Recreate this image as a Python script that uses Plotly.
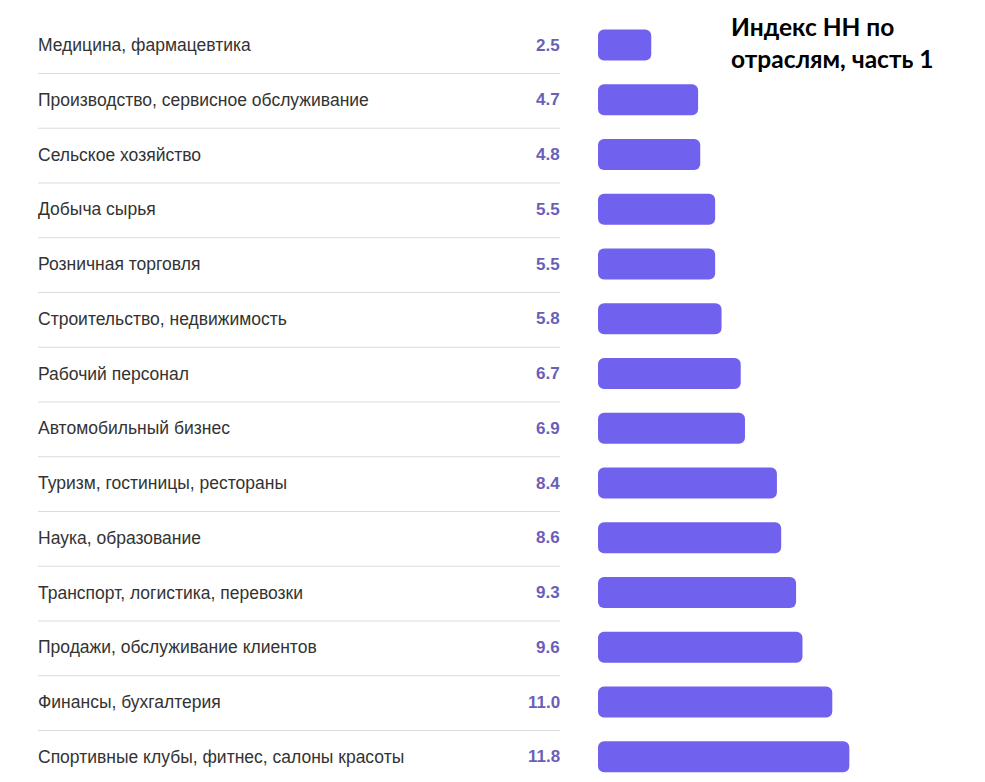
import plotly.graph_objects as go

categories = [
    "Медицина, фармацевтика",
    "Производство, сервисное обслуживание",
    "Сельское хозяйство",
    "Добыча сырья",
    "Розничная торговля",
    "Строительство, недвижимость",
    "Рабочий персонал",
    "Автомобильный бизнес",
    "Туризм, гостиницы, рестораны",
    "Наука, образование",
    "Транспорт, логистика, перевозки",
    "Продажи, обслуживание клиентов",
    "Финансы, бухгалтерия",
    "Спортивные клубы, фитнес, салоны красоты",
]
values = [2.5, 4.7, 4.8, 5.5, 5.5, 5.8, 6.7, 6.9, 8.4, 8.6, 9.3, 9.6, 11.0, 11.8]
title_text = "Индекс НН по<br>отраслям, часть 1"

W, H = 985, 782
BAR_COLOR = "#7062EE"
VAL_COLOR = "#6A5FB8"
LABEL_COLOR = "#333333"

positions = list(range(len(categories)))

# a (practically zero) explicit base makes Plotly round all four corners
BASE = 1e-9
fig = go.Figure()
fig.add_trace(go.Bar(
    x=values,
    base=[BASE] * len(values),
    y=positions,
    orientation="h",
    marker=dict(color=BAR_COLOR, line=dict(width=0)),
    width=0.57,
    customdata=values,
    hovertemplate="%{customdata}<extra></extra>",
))

px_per_unit = 21.3
x0_px = 598
fig.update_xaxes(
    range=[-x0_px / px_per_unit, (W - x0_px) / px_per_unit],
    visible=False, domain=[0, 1],
)
row_px = 54.75
first_px = 45
fig.update_yaxes(
    range=[(H - first_px) / row_px, -first_px / row_px],
    visible=False, domain=[0, 1],
)

annotations = []
shapes = []
for i, (c, v) in enumerate(zip(categories, values)):
    annotations.append(dict(
        x=36 / W, xref="paper", y=i, yref="y", text=c, showarrow=False,
        xanchor="left", yanchor="middle",
        font=dict(family="Liberation Sans, Arial, sans-serif", size=17.5, color=LABEL_COLOR),
    ))
    annotations.append(dict(
        x=562 / W, xref="paper", y=i, yref="y", text=f"<b>{v:.1f}</b>", showarrow=False,
        xanchor="right", yanchor="middle",
        font=dict(family="Liberation Sans, Arial, sans-serif", size=17, color=VAL_COLOR),
    ))
    if i < len(categories) - 1:
        shapes.append(dict(
            type="line", xref="paper", yref="y",
            x0=38 / W, x1=560 / W, y0=i + 0.52, y1=i + 0.52,
            line=dict(color="#DCDCDC", width=1),
        ))

annotations.append(dict(
    x=729 / W, xref="paper", y=1 - 10 / H, yref="paper", text=f"<b>{title_text}</b>",
    showarrow=False, xanchor="left", yanchor="top", align="left",
    font=dict(family="Lato, Noto Sans, sans-serif", size=24.5, color="#000000"),
))

fig.update_layout(
    width=W, height=H,
    margin=dict(l=0, r=0, t=0, b=0),
    paper_bgcolor="white", plot_bgcolor="white",
    showlegend=False,
    barcornerradius=6,
    annotations=annotations,
    shapes=shapes,
)

fig.write_html(
    "out.html",
    config={"displayModeBar": False},
    post_script="document.body.style.margin='0';document.body.style.overflow='hidden';",
)
